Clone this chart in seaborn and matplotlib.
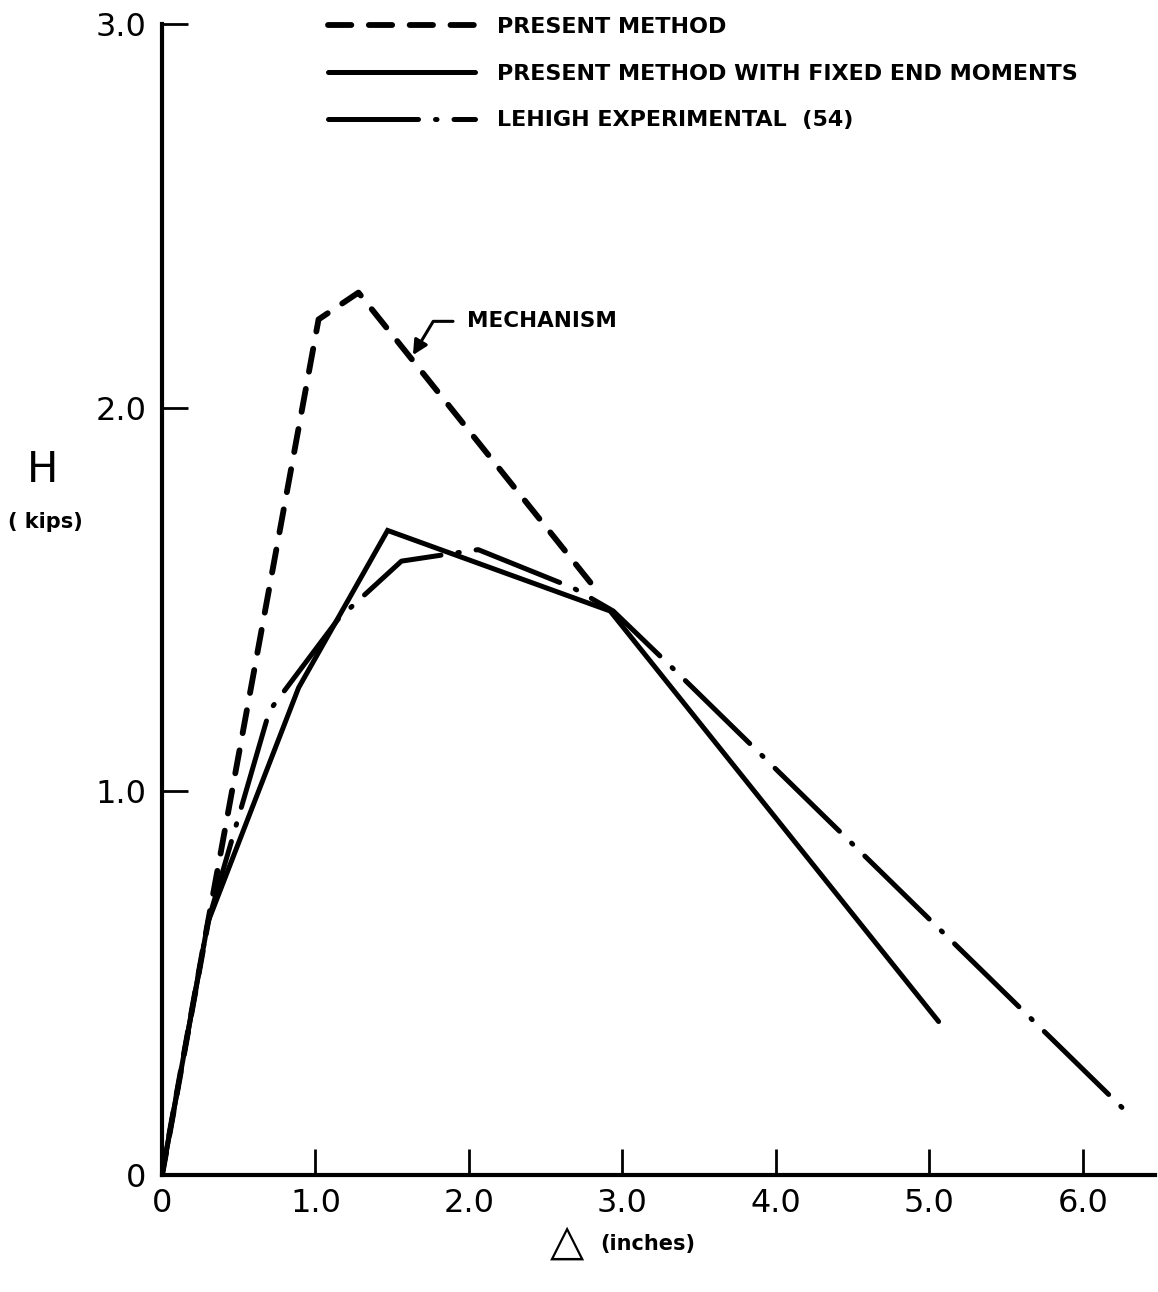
import numpy as np
import pandas as pd
import matplotlib
matplotlib.use("Agg")
import matplotlib.pyplot as plt
import seaborn as sns

sns.set_theme(style="white")
plt.rcParams["font.family"] = ["DejaVu Sans"]

# ---- data ----
present_x = [0.0, 0.30, 1.02, 1.28, 2.84]
present_y = [0.0, 0.66, 2.23, 2.30, 1.52]

fixed_x = [0.0, 0.30, 0.89, 1.47, 2.92, 5.06]
fixed_y = [0.0, 0.66, 1.27, 1.68, 1.47, 0.40]

lehigh_x = [0.0, 0.30, 0.70, 1.15, 1.56, 2.06, 2.68, 2.94, 3.33, 6.27]
lehigh_y = [0.0, 0.66, 1.21, 1.45, 1.60, 1.63, 1.53, 1.47, 1.32, 0.17]

labels = ["PRESENT METHOD",
          "PRESENT METHOD WITH FIXED END MOMENTS",
          "LEHIGH EXPERIMENTAL  (54)"]
x_ticks = [0, 1, 2, 3, 4, 5, 6]
x_ticklabels = ["0", "1.0", "2.0", "3.0", "4.0", "5.0", "6.0"]
y_ticks = [0, 1, 2, 3]
y_ticklabels = ["0", "1.0", "2.0", "3.0"]

fig = plt.figure(figsize=(11.58, 12.92), dpi=100)
ax = fig.add_axes([162 / 1158, 1 - 1175 / 1292, (1155 - 162) / 1158, (1175 - 24) / 1292])

sns.lineplot(x=present_x, y=present_y, ax=ax, sort=False, estimator=None,
             color="black", lw=4.2, linestyle=(0, (4.0, 3.0)),
             dash_capstyle="round", label=labels[0])
sns.lineplot(x=fixed_x, y=fixed_y, ax=ax, sort=False, estimator=None,
             color="black", lw=3.6, solid_capstyle="round", solid_joinstyle="miter",
             label=labels[1])
sns.lineplot(x=lehigh_x, y=lehigh_y, ax=ax, sort=False, estimator=None,
             color="black", lw=3.6, linestyle=(0, (18, 3.4, 0.3, 3.4)),
             dash_capstyle="round", label=labels[2])

ax.set_xlim(0, 6.47)
ax.set_ylim(0, 3.0)
ax.set_xticks(x_ticks)
ax.set_xticklabels(x_ticklabels)
ax.set_yticks(y_ticks)
ax.set_yticklabels(y_ticklabels)
ax.tick_params(axis="both", which="major", bottom=True, left=True, top=False, right=False,
               direction="in", length=19, width=2, color="black",
               labelsize=23, labelcolor="black")
ax.tick_params(axis="x", pad=9)
ax.tick_params(axis="y", pad=11)
for s in ["top", "right"]:
    ax.spines[s].set_visible(False)
for s in ["left", "bottom"]:
    ax.spines[s].set_color("black")
    ax.spines[s].set_linewidth(3)
ax.set_xlabel("")
ax.set_ylabel("")

leg = ax.legend(loc="upper left", bbox_to_anchor=(308 / 1158, 1 + 3 / 1292),
                bbox_transform=fig.transFigure, frameon=False,
                handlelength=6.6, handletextpad=1.0, labelspacing=1.2,
                prop={"size": 16, "weight": "bold"})
for t in leg.get_texts():
    t.set_color("black")

ax.annotate("MECHANISM", xy=(1.635, 2.137), xytext=(1.99, 2.225),
            fontsize=15.5, fontweight="bold", color="black", va="center", ha="left",
            arrowprops=dict(arrowstyle="-|>", color="black", lw=2.2, mutation_scale=22,
                            shrinkA=8, shrinkB=0, relpos=(0, 0.5),
                            connectionstyle="angle,angleA=0,angleB=59,rad=0"))

fig.text(43 / 1158, 1 - 470 / 1292, "H", fontsize=30, ha="center", va="center", color="black")
fig.text(45 / 1158, 1 - 522 / 1292, "( kips)", fontsize=15, fontweight="bold",
         ha="center", va="center", color="black")
fig.text(567 / 1158, 1 - 1242 / 1292, "\u25B3", fontsize=32, ha="center", va="center",
         color="black")
fig.text(600 / 1158, 1 - 1244 / 1292, "(inches)", fontsize=15, fontweight="bold",
         ha="left", va="center", color="black")

fig.savefig("out.png", dpi=100, facecolor="white")
